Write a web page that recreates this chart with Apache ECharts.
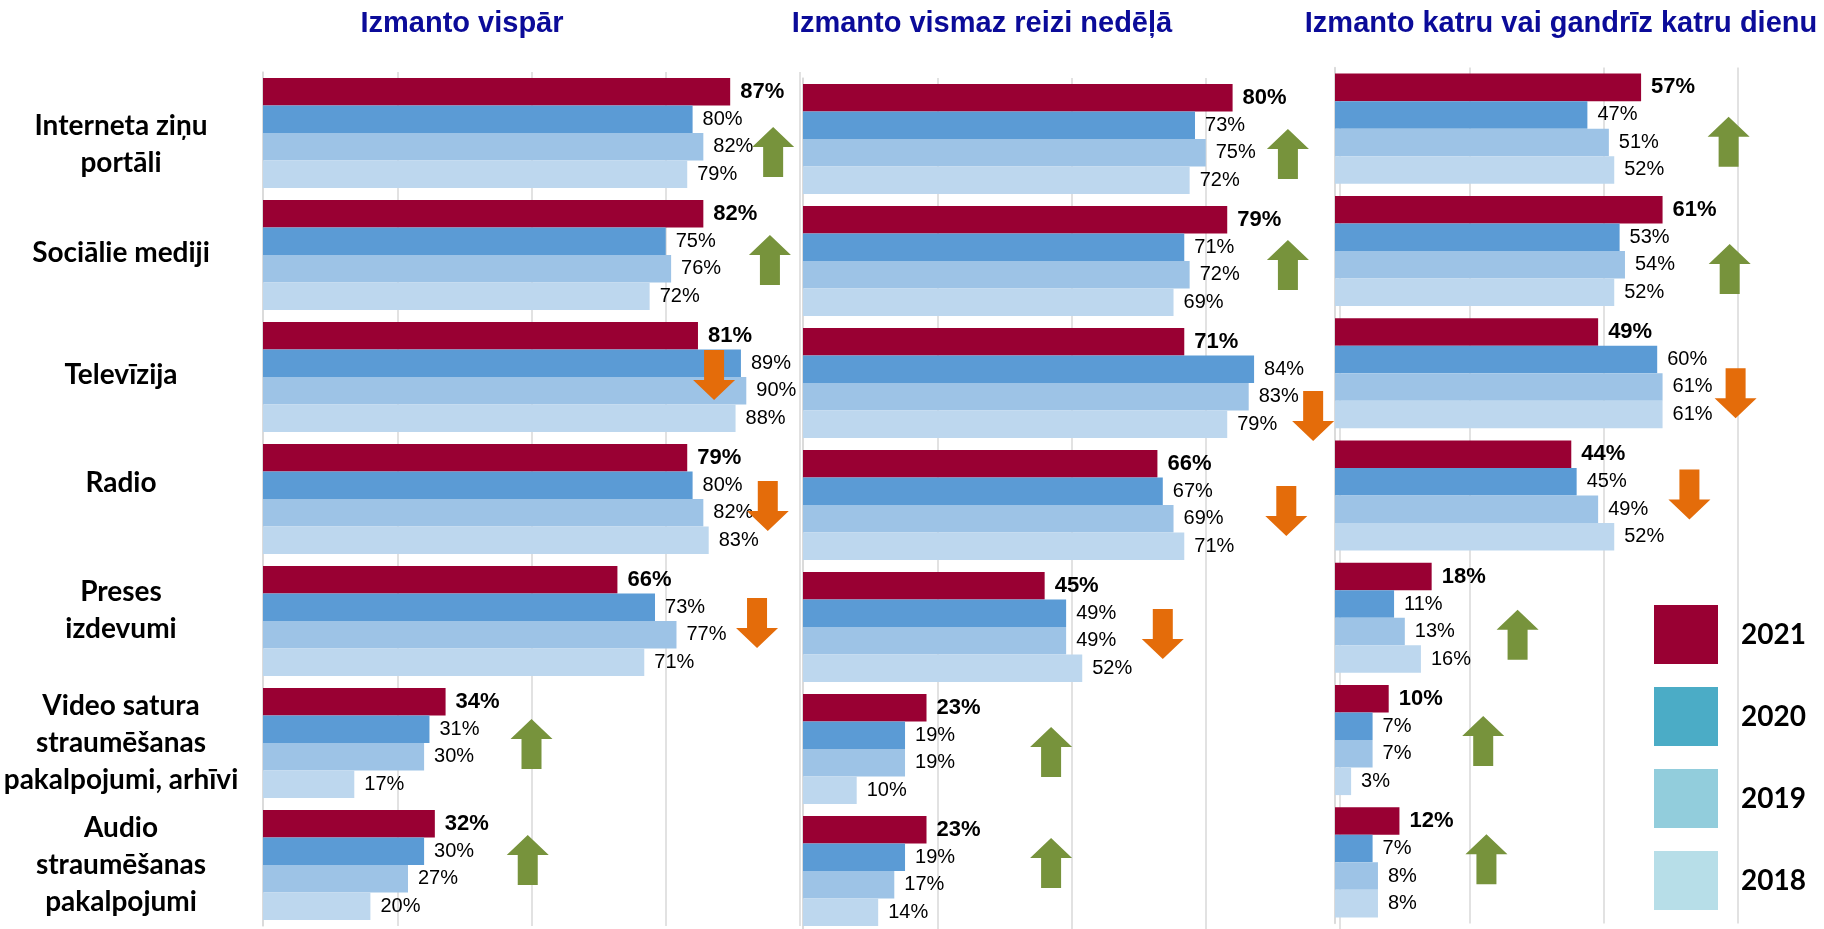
<!DOCTYPE html>
<html>
<head>
<meta charset="utf-8">
<script src="https://cdn.jsdelivr.net/npm/echarts@6/dist/echarts.min.js"></script>
<style>
  html, body { margin: 0; padding: 0; background: #fff; }
  #chart { width: 1824px; height: 929px; }
</style>
</head>
<body>
<div id="chart"></div>
<script>
// categories, top to bottom
var categories = ['Interneta ziņu\nportāli', 'Sociālie mediji', 'Televīzija', 'Radio', 'Preses\nizdevumi',
  'Video satura\nstraumēšanas\npakalpojumi, arhīvi', 'Audio\nstraumēšanas\npakalpojumi'];
var years = ['2021', '2020', '2019', '2018'];
var panelTitles = ['Izmanto vispār', 'Izmanto vismaz reizi nedēļā', 'Izmanto katru vai gandrīz katru dienu'];

// Izmanto vispār
var any2021 = [87, 82, 81, 79, 66, 34, 32];
var any2020 = [80, 75, 89, 80, 73, 31, 30];
var any2019 = [82, 76, 90, 82, 77, 30, 27];
var any2018 = [79, 72, 88, 83, 71, 17, 20];
// Izmanto vismaz reizi nedēļā
var weekly2021 = [80, 79, 71, 66, 45, 23, 23];
var weekly2020 = [73, 71, 84, 67, 49, 19, 19];
var weekly2019 = [75, 72, 83, 69, 49, 19, 17];
var weekly2018 = [72, 69, 79, 71, 52, 10, 14];
// Izmanto katru vai gandrīz katru dienu
var daily2021 = [57, 61, 49, 44, 18, 10, 12];
var daily2020 = [47, 53, 60, 45, 11, 7, 7];
var daily2019 = [51, 54, 61, 49, 13, 7, 8];
var daily2018 = [52, 52, 61, 52, 16, 3, 8];

// trend arrows: 1 = up, -1 = down
var trendAny = [1, 1, -1, -1, -1, 1, 1];
var trendWeekly = [1, 1, -1, -1, -1, 1, 1];
var trendDaily = [1, 1, -1, -1, 1, 1, 1];

// ---- layout / styling ----
var barColors = ['#990033', '#5B9BD5', '#9DC3E6', '#BDD7EE'];
var legendColors = ['#990033', '#4BACC6', '#92CDDC', '#B7DEE8'];
var gridLine = '#D9D9D9';
var panelGrids = [
  { left: 263, top: 72, width: 537, height: 854, outerBoundsMode: 'none' },
  { left: 803, top: 78, width: 537, height: 854, outerBoundsMode: 'none' },
  { left: 1335, top: 67.5, width: 537, height: 856, outerBoundsMode: 'none' }
];
var titleCenters = [462, 982, 1561];
// vertical nudge (px) of each category label
var labelShift = [11, -2, -2, -16, -11, 0, 0];
// arrow placement (x in axis units, y shift in px from category centre)
var arrowX = [
  [95, 94.4, 84, 94, 92, 50, 49.3],
  [90.3, 90.3, 95, 90, 67, 46.2, 46.2],
  [73.3, 73.5, 74.6, 66, 34, 27.6, 28.2]
];
var arrowDy = [
  [19, 5, -2, 7, 2, 1, -5],
  [15, 4, 33, 6, 7, 3, -8],
  [13, 18, 20, -1, 17, 1, -3]
];
var ARROW_UP = 'path://M21,0L42,20L31,20L31,50L11,50L11,20L0,20Z';
var ARROW_DOWN = 'path://M11,0L31,0L31,30L42,30L21,50L0,30L11,30Z';

var panelData = [
  [any2021, any2020, any2019, any2018],
  [weekly2021, weekly2020, weekly2019, weekly2018],
  [daily2021, daily2020, daily2019, daily2018]
];
var panelTrends = [trendAny, trendWeekly, trendDaily];

// spacer lines (rich text) used to nudge labels up / down
var spacerRich = {};
labelShift.forEach(function (d, i) {
  spacerRich['g' + i] = { lineHeight: Math.max(1, 2 * Math.abs(d)), fontSize: 1 };
});
function catLabel(val, idx) {
  var d = labelShift[idx];
  if (d > 0) return '{g' + idx + '| }\n' + val;
  if (d < 0) return val + '\n{g' + idx + '| }';
  return val;
}

var grids = [], xAxes = [], yAxes = [], series = [], graphics = [];

panelGrids.forEach(function (g, p) {
  grids.push(g);
  xAxes.push({
    type: 'value', gridIndex: p, min: 0, max: 100, interval: 25,
    axisLabel: { show: false }, axisTick: { show: false }, axisLine: { show: false },
    splitLine: { lineStyle: { color: gridLine, width: 1.5 } }
  });
  yAxes.push({
    type: 'category', gridIndex: p, data: categories, inverse: true,
    axisTick: { show: false },
    axisLine: { lineStyle: { color: gridLine, width: 1.5 } },
    axisLabel: {
      show: p === 0, margin: 142, align: 'center', lineHeight: 37,
      fontFamily: 'Lato', fontWeight: 'bold', fontSize: 28, color: '#000',
      formatter: catLabel, rich: spacerRich
    }
  });
  panelData[p].forEach(function (vals, y) {
    var bold = y === 0;
    series.push({
      name: years[y], type: 'bar', xAxisIndex: p, yAxisIndex: p,
      data: vals, barGap: '0%', barCategoryGap: '10%',
      itemStyle: { color: barColors[y] },
      label: {
        show: true, position: 'right', distance: 10, formatter: '{c}%',
        fontFamily: 'Liberation Sans', fontSize: bold ? 22 : 20,
        fontWeight: bold ? 'bold' : 'normal', color: '#000'
      }
    });
  });
  series.push({
    type: 'scatter', xAxisIndex: p, yAxisIndex: p, silent: true, z: 5,
    symbolSize: [42, 50],
    data: panelTrends[p].map(function (t, i) {
      return {
        value: [arrowX[p][i], i],
        symbol: t > 0 ? ARROW_UP : ARROW_DOWN,
        symbolOffset: [0, arrowDy[p][i]],
        itemStyle: { color: t > 0 ? '#77933C' : '#E46C0A', opacity: 1 }
      };
    })
  });
  graphics.push({
    type: 'text', x: titleCenters[p], y: 24,
    style: {
      text: panelTitles[p], fill: '#0B0B99', align: 'center', verticalAlign: 'middle',
      font: 'bold 29px "Liberation Sans", Arial, sans-serif'
    }
  });
});

var chart = echarts.init(document.getElementById('chart'));
chart.setOption({
  animation: false,
  backgroundColor: '#fff',
  grid: grids,
  xAxis: xAxes,
  yAxis: yAxes,
  legend: {
    orient: 'vertical', left: 1649, top: 600,
    itemWidth: 64, itemHeight: 59, itemGap: 23, icon: 'rect', selectedMode: false,
    data: years.map(function (y, i) { return { name: y, itemStyle: { color: legendColors[i] } }; }),
    textStyle: { fontFamily: 'Lato', fontWeight: 'bold', fontSize: 28, color: '#000', padding: [0, 0, 0, 18] }
  },
  graphic: graphics,
  series: series
});
</script>
</body>
</html>
